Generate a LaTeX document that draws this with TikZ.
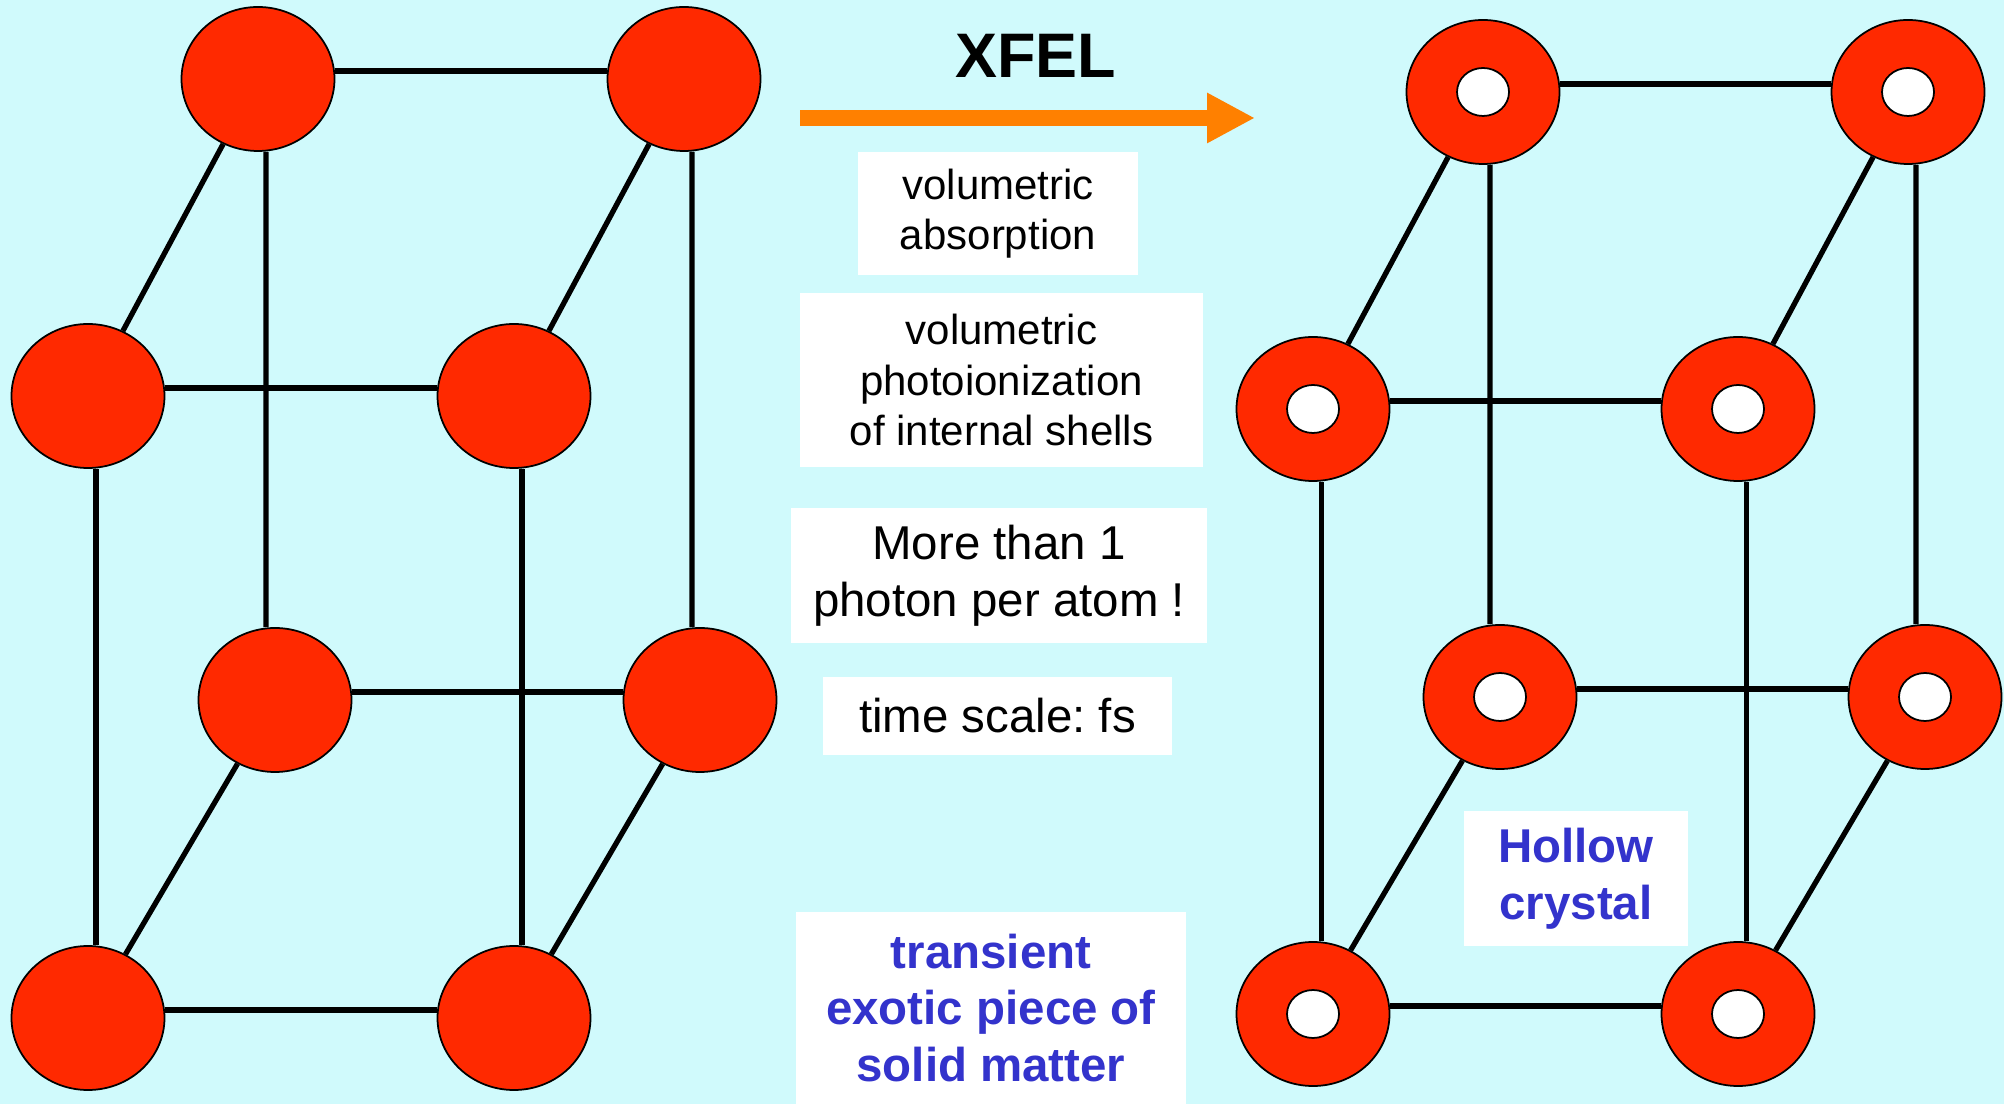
\documentclass[tikz,border=0pt]{standalone}
\usepackage{fontspec}
\setmainfont{Liberation Sans}
\frenchspacing
\usetikzlibrary{arrows.meta,shapes.geometric}
\definecolor{atom_red}{RGB}{255, 41, 0}
\definecolor{sky_cyan}{RGB}{208, 250, 252}
\definecolor{beam_orange}{RGB}{255, 128, 0}
\definecolor{note_blue}{RGB}{51, 51, 204}
\tikzstyle{atom}=[ellipse,fill=atom_red,draw=black,
  line width=0.5pt,inner sep=0pt,minimum width=1.53cm,minimum height=1.44cm]
\tikzstyle{hollow}=[atom,path picture={\draw [fill=white,line width=0.5pt]
  (path picture bounding box.center) ellipse (0.26cm and 0.24cm);}]
\tikzstyle{bond}=[draw=black,line width=1.5pt]
\tikzstyle{beam}=[draw=beam_orange,line width=0.16cm,
  -{Triangle[length=0.48cm,width=0.47cm]}]
\tikzstyle{note}=[fill=white,inner sep=0pt,align=center,
  font=\fontsize{11.95}{14.4}\selectfont]
\tikzstyle{big note}=[note,font=\fontsize{13.5}{16.2}\selectfont]
\tikzstyle{blue note}=[note,text=note_blue,
  font=\fontsize{13.5}{16.2}\selectfont\bfseries]
\tikzstyle{title}=[font=\fontsize{17.9}{21}\selectfont\bfseries]
\tikzstyle{none}=[]

\begin{document}
\begin{tikzpicture}
            \fill [sky_cyan] (0, 0) rectangle (20.04, -11.04);
            \useasboundingbox (0, 0) rectangle (20.04, -11.04);
            % solid lattice
            \node [style=atom] (0) at (2.58, -0.79) {};
            \node [style=atom] (1) at (6.84, -0.79) {};
            \node [style=atom] (2) at (0.88, -3.96) {};
            \node [style=atom] (3) at (5.14, -3.96) {};
            \node [style=atom] (4) at (2.75, -7.00) {};
            \node [style=atom] (5) at (7.00, -7.00) {};
            \node [style=atom] (6) at (0.88, -10.18) {};
            \node [style=atom] (7) at (5.14, -10.18) {};
            % hollow lattice
            \node [style=hollow] (8) at (14.83, -0.92) {};
            \node [style=hollow] (9) at (19.08, -0.92) {};
            \node [style=hollow] (10) at (13.13, -4.09) {};
            \node [style=hollow] (11) at (17.38, -4.09) {};
            \node [style=hollow] (12) at (15.00, -6.97) {};
            \node [style=hollow] (13) at (19.25, -6.97) {};
            \node [style=hollow] (14) at (13.13, -10.14) {};
            \node [style=hollow] (15) at (17.38, -10.14) {};
            % bonds sit a little above / right of the centres
            \draw [style=bond] ([yshift=0.08cm]0.east) to ([yshift=0.08cm]1.west);
            \draw [style=bond] ([yshift=0.08cm]2.east) to ([yshift=0.08cm]3.west);
            \draw [style=bond] ([yshift=0.08cm]4.east) to ([yshift=0.08cm]5.west);
            \draw [style=bond] ([yshift=0.08cm]6.east) to ([yshift=0.08cm]7.west);
            \draw [style=bond] (0) to (2);
            \draw [style=bond] (1) to (3);
            \draw [style=bond] (4) to (6);
            \draw [style=bond] (5) to (7);
            \draw [style=bond] ([xshift=0.08cm]0.south) to ([xshift=-0.09cm]4.north);
            \draw [style=bond] ([xshift=0.08cm]1.south) to ([xshift=-0.08cm]5.north);
            \draw [style=bond] ([xshift=0.08cm]2.south) to ([xshift=0.08cm]6.north);
            \draw [style=bond] ([xshift=0.08cm]3.south) to ([xshift=0.08cm]7.north);
            \draw [style=bond] ([yshift=0.08cm]8.east) to ([yshift=0.08cm]9.west);
            \draw [style=bond] ([yshift=0.08cm]10.east) to ([yshift=0.08cm]11.west);
            \draw [style=bond] ([yshift=0.08cm]12.east) to ([yshift=0.08cm]13.west);
            \draw [style=bond] ([yshift=0.08cm]14.east) to ([yshift=0.08cm]15.west);
            \draw [style=bond] (8) to (10);
            \draw [style=bond] (9) to (11);
            \draw [style=bond] (12) to (14);
            \draw [style=bond] (13) to (15);
            \draw [style=bond] ([xshift=0.07cm]8.south) to ([xshift=-0.10cm]12.north);
            \draw [style=bond] ([xshift=0.08cm]9.south) to ([xshift=-0.09cm]13.north);
            \draw [style=bond] ([xshift=0.085cm]10.south) to ([xshift=0.085cm]14.north);
            \draw [style=bond] ([xshift=0.085cm]11.south) to ([xshift=0.085cm]15.north);
            % pulse and notes
            \node [style=title] (16) at (10.355, -0.555) {XFEL};
            \node [style=none] (17) at (8.00, -1.18) {};
            \node [style=none] (18) at (12.55, -1.18) {};
            \draw [style=beam] (17.center) to (18.center);
            \node [style=note, minimum width=2.80cm, minimum height=1.23cm] (19) at (9.98, -2.135) {volumetric\\absorption};
            \node [style=note, minimum width=4.03cm, minimum height=1.74cm] (20) at (10.015, -3.80) {volumetric\\photoionization\\of internal shells};
            \node [style=big note, minimum width=4.16cm, minimum height=1.35cm] (21) at (9.99, -5.755) {More than 1\\photon per atom !};
            \node [style=big note, minimum width=3.49cm, minimum height=0.78cm] (22) at (9.975, -7.16) {time scale: fs};
            \node [style=blue note, minimum width=3.90cm, minimum height=1.92cm] (23) at (9.91, -10.08) {transient\\exotic piece of\\solid matter};
            \node [style=blue note, minimum width=2.24cm, minimum height=1.35cm] (24) at (15.76, -8.785) {Hollow\\crystal};
    \end{tikzpicture}
\end{document}
